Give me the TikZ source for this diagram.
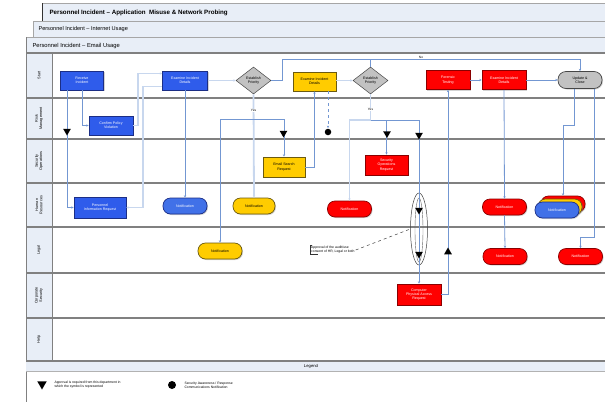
\documentclass[tikz,border=0pt]{standalone}
\usepackage{fontspec}
\setmainfont{Liberation Sans}
\usetikzlibrary{arrows.meta,positioning,shapes.geometric,shadows,calc}

\definecolor{laneblue}{HTML}{E8EEF7}
\definecolor{lanegray}{HTML}{808080}
\definecolor{flowblue}{HTML}{7397D2}
\definecolor{flowlight}{HTML}{C8D7EE}
\definecolor{boxblue}{HTML}{2F5CEB}
\definecolor{boxblueline}{HTML}{1B2E86}
\definecolor{notiblue}{HTML}{4171E8}
\definecolor{boxyellow}{HTML}{FFCC00}
\definecolor{boxyellowline}{HTML}{6B5A10}
\definecolor{boxred}{HTML}{FF0000}
\definecolor{boxredline}{HTML}{8A0000}
\definecolor{gwgray}{HTML}{C2C2C2}

\begin{document}
\begin{tikzpicture}[
  x=1pt, y=-1pt,
  >={Stealth[length=2.4pt,width=2.4pt]},
  font=\fontsize{3.6}{4.2}\selectfont,
  task/.style={rectangle, line width=0.7pt, minimum width=43pt, minimum height=19pt, inner sep=1pt, align=center,
    drop shadow={shadow xshift=1pt, shadow yshift=-1pt, opacity=0.35}},
  bluetask/.style={task, fill=boxblue, draw=boxblueline, text=white},
  yellowtask/.style={task, fill=boxyellow, draw=boxyellowline, text=black},
  redtask/.style={task, fill=boxred, draw=boxredline, text=white},
  gateway/.style={diamond, fill=gwgray, draw=gray!55!black, line width=0.5pt, minimum width=35pt, minimum height=27pt, inner sep=0pt, align=center},
  notify/.style={rectangle, rounded corners=7.5pt, line width=0.7pt, minimum width=44pt, minimum height=16pt, inner sep=1pt, align=center,
    drop shadow={shadow xshift=1pt, shadow yshift=-1pt, opacity=0.35}},
  bluenote/.style={notify, fill=notiblue, draw=boxblueline, text=white},
  yellownote/.style={notify, fill=boxyellow, draw=boxyellowline, text=black},
  rednote/.style={notify, fill=boxred, draw=boxredline, text=white},
  approval/.style={regular polygon, regular polygon sides=3, shape border rotate=180, fill=black, inner sep=0pt, minimum size=9pt},
  release/.style={regular polygon, regular polygon sides=3, fill=black, inner sep=0pt, minimum size=9pt},
  comms/.style={circle, fill=black, inner sep=0pt, minimum size=6.5pt},
  flow/.style={draw=flowblue, line width=0.8pt},
  flowlight/.style={draw=flowlight, line width=1.8pt},
  yeslabel/.style={fill=white, inner sep=0.5pt, font=\fontsize{3.2}{3.6}\selectfont},
  laneline/.style={draw=lanegray, line width=1.3pt},
  titlebar/.style={fill=laneblue, draw=gray!70, line width=0.5pt},
  lanelabel/.style={rotate=90, align=center, font=\fontsize{3.8}{4.4}\selectfont}
]
\useasboundingbox (0,0) rectangle (605,402);

% Stacked title bars
\draw[titlebar] (42,3) rectangle (605,21);
\draw[gray!40!black, line width=1pt] (42,3) -- (42,21);
\node[anchor=west, font=\fontsize{6.2}{7}\selectfont\bfseries] (title1) at (46,12.5) {Personnel Incident -- Application\ \ Misuse \& Network Probing};
\draw[titlebar] (33,21) rectangle (605,37);
\node[anchor=west, font=\fontsize{5.6}{6.5}\selectfont] (title2) at (35,29.5) {Personnel Incident -- Internet Usage};
\draw[titlebar] (26,37) rectangle (605,53);
\node[anchor=west, font=\fontsize{5.8}{6.5}\selectfont] (title3) at (29,45.5) {Personnel Incident -- Email Usage};

% Lanes
\fill[laneblue] (26,53) rectangle (52,361);
\foreach \ytop/\ybot/\lbl [count=\i] in {53/98/Start, 98/139/Risk\\Management, 139/183/Security\\Operations,
    183/227/Human\\Resources, 227/273/Legal, 273/318/Corporate\\Security, 318/361/Help} {
  \node[lanelabel] (lane\i) at (39,{(\ytop+\ybot)/2}) {\lbl};
  \draw[laneline] (26,\ybot) -- (605,\ybot);
}
\draw[laneline] (26,53) -- (605,53);
\draw[lanegray, line width=0.7pt] (52,53) -- (52,361);
\draw[lanegray, line width=0.7pt] (26,37) -- (26,402);

% Legend bar
\fill[laneblue] (26,362) rectangle (605,371);
\draw[gray!60, line width=0.8pt] (26,371) -- (605,371);
\node[font=\fontsize{4.2}{5}\selectfont] (legend) at (311,366.5) {Legend};

% Start lane
\node[bluetask] (receive) at (82,80.5) {Receive\\Incident};
\node[bluetask, minimum width=45pt] (examine) at (185,80.5) {Examine Incident\\Details};
\node[gateway] (priority1) at (253.5,80.5) {Establish\\Priority};
\node[yellowtask] (examineY) at (314.5,81.5) {Examine Incident\\Details};
\node[gateway] (priority2) at (370.5,80.5) {Establish\\Priority};
\node[redtask, minimum width=44pt] (forensic) at (448,80) {Forensic\\Testing};
\node[redtask, minimum width=44pt] (examineR) at (504,80) {Examine Incident\\Details};
\node[notify, fill=gwgray, draw=gray!55!black, minimum height=17pt, rounded corners=8pt] (close) at (580,80) {Update \&\\Close};

% Risk management lane
\node[bluetask, minimum width=44pt] (confirm) at (111,125.5) {Confirm Policy\\Violation};

% Security operations lane
\node[yellowtask, minimum width=42pt, minimum height=20pt] (emailreq) at (284,167) {Email Search\\Request};
\node[redtask, minimum height=20pt] (secopsreq) at (386.5,165) {Security\\Operations\\Request};

% Human resources lane
\node[bluetask, minimum width=52pt, minimum height=21pt] (persinfo) at (100,207.5) {Personnel\\Information Request};
\node[bluenote] (notifyB) at (185,206) {Notification};
\node[yellownote, minimum width=42pt] (notifyY) at (254,206) {Notification};
\node[rednote] (notifyR) at (349.5,209) {Notification};
\node[rednote] (notifyR2) at (504.5,207) {Notification};
\node[rednote] (notifyStack) at (563,204) {};
\node[yellownote] (notifyStackY) at (560,207) {};
\node[bluenote] (notifyStackB) at (557,210) {Notification};

% Legal lane
\node[yellownote] (notifyLegalY) at (220,251) {Notification};
\node[rednote] (notifyLegalR) at (505,256.5) {Notification};
\node[rednote] (notifyLegalR2) at (580.5,256.5) {Notification};
\node[ellipse, draw=black!75, line width=0.5pt, minimum width=17pt, minimum height=72pt, inner sep=0pt] (gate) at (419,229) {};
\node[ellipse, draw=black!60, line width=0.4pt, minimum width=8pt, minimum height=64pt, inner sep=0pt] (gateinner) at (419,230) {};
\node[anchor=west, align=left, inner sep=1pt, font=\fontsize{3.4}{4}\selectfont] (note) at (310,250) {Approval of the audit/use\\consent of HR, Legal or both};
\draw[gray!40!black, line width=0.6pt] ([xshift=2pt]note.north west) -- (note.north west) -- (note.south west) -- ([xshift=8pt]note.south west);
\draw[gray!50!black, dashed, line width=0.5pt] (note.east) -- (gate.west);

% Corporate security lane
\node[redtask, minimum width=44pt, minimum height=21pt] (physreq) at (419,294.5) {Computer\\Physical Access\\Request};

% Connectors
\draw[flow, ->] (receive.south) |- (confirm.west);
\draw[flow, line width=0.5pt, ->] ([xshift=-15pt]receive.south) |- (persinfo.west);
\draw[flowlight, ->] (confirm.east) -- ++(5,0) |- ([yshift=7pt]examine.west);
\draw[flowlight, ->] ([yshift=-6pt]examine.west) -- ++(-19,0) |- (persinfo.east);
\draw[flow, line width=0.5pt, ->] (examine.south) -- (notifyB.north);
\draw[flowlight, ->] (examine.east) -- (priority1.west);
\coordinate (yes1) at (253.5,119);
\draw[flowlight, ->] (priority1.south) -- node[yeslabel, pos=0.16] {Yes} (notifyY.north);
\draw[flow, line width=0.5pt, ->] (yes1) -| (notifyLegalY.north);
\draw[flow, line width=0.5pt, ->] (yes1) -| (emailreq.north);
\draw[flow, ->] (priority1.east) -- ++(11,0) |- ([yshift=12pt]close.north) -- (close.north);
\coordinate (nojoin) at (370.5,59);
\draw[flow] (priority2.north) -- (nojoin);
\node[yeslabel] (nolabel) at (421,57) {No};
\draw[flowlight, ->] (examineY.east |- priority2.west) -- (priority2.west);
\draw[flow, ->] (emailreq.east) -| (examineY.south);
\draw[flow, dashed, ->] ([xshift=13.5pt]examineY.south) -- (328,128);
\coordinate (yes2) at (370.5,120);
\draw[flowlight] (priority2.south) -- node[yeslabel, pos=0.6] {Yes} (yes2);
\draw[flowlight, ->] (yes2) -| (notifyR.north);
\draw[flow, ->] (yes2) -| (secopsreq.north);
\draw[flow, ->] (yes2) -| (physreq.north);
\draw[flow, ->] (forensic.east) -- (examineR.west);
\draw[flow, ->] (examineR.east) -- (close.west);
\draw[flow, ->] (examineR.south) -- (notifyR2.north);
\draw[flow, ->] (notifyR2.south) -- (notifyLegalR.north);
\draw[flow, ->] (physreq.east) -| (forensic.south);
\draw[flow, ->] ([xshift=-6pt]close.south) -- ++(0,37) -| (notifyStack.north);
\draw[flow, ->] ([xshift=14pt]close.south) |- ($(notifyLegalR2.north)+(0,-11)$) -- (notifyLegalR2.north);

% Approval and communication markers
\node[approval] (apprRM1) at (67,131) {};
\node[approval] (apprRM2) at (283.5,133) {};
\node[comms] (commRM) at (328,132) {};
\node[approval] (apprRM3) at (387,133.5) {};
\node[approval] (apprRM4) at (419,135) {};
\node[approval] (apprG1) at (419,210) {};
\node[approval] (apprG2) at (419,254) {};
\node[release] (apprUp) at (448,252) {};

% Legend entries
\node[approval, minimum size=11pt] (legtri) at (42,384) {};
\node[anchor=west, align=left, font=\fontsize{3.4}{4}\selectfont] (legtritext) at (51,385) {Approval is required from this department in\\which the symbol is represented};
\node[comms, minimum size=8pt] (legcirc) at (172,385) {};
\node[anchor=west, align=left, font=\fontsize{3.4}{4}\selectfont] (legcirctext) at (181,385) {Security Awareness / Response\\Communications Notification};
\end{tikzpicture}
\end{document}
